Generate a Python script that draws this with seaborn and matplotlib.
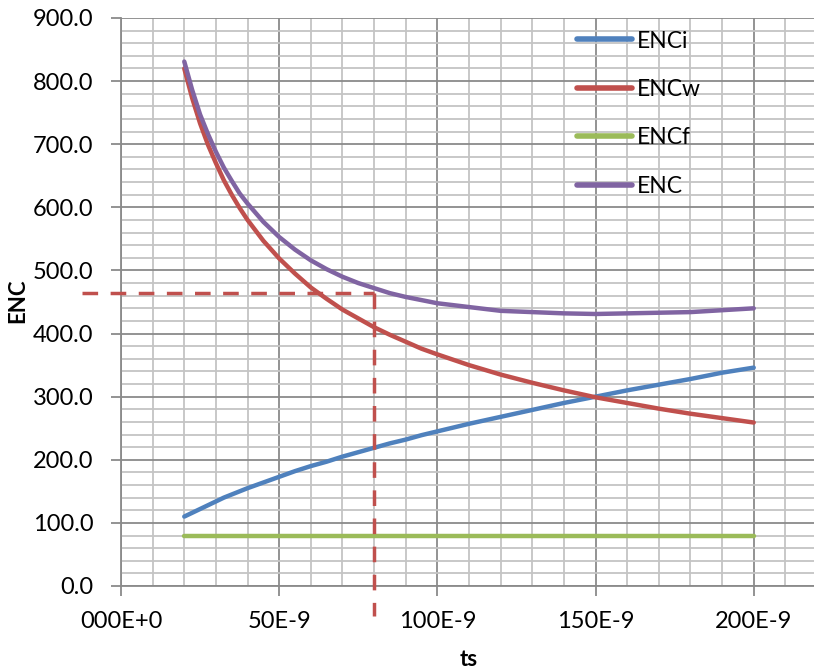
import numpy as np
import pandas as pd
import matplotlib
matplotlib.use("Agg")
import matplotlib.pyplot as plt
from matplotlib.ticker import MultipleLocator, FuncFormatter
from matplotlib.lines import Line2D
import seaborn as sns

# ---- data ----
ts_ns = [20, 22.5, 25, 27.5, 30, 32.5, 35, 37.5, 40, 45, 50, 55, 60, 65, 70, 75, 80, 85, 90, 95,
         100, 110, 120, 130, 140, 150, 160, 170, 180, 190, 200]
enc_i = [110, 116, 122, 128, 134, 140, 145, 150, 155, 164, 173, 182, 190, 197, 205, 212, 219, 226, 232, 239,
         245, 257, 268, 279, 290, 300, 310, 319, 328, 338, 346]
enc_w = [820, 773, 733, 699, 670, 643, 620, 599, 580, 547, 519, 495, 473, 455, 438, 424, 410, 398, 387, 376,
         367, 350, 335, 322, 310, 299, 290, 281, 273, 266, 259]
enc_f = [80] * len(ts_ns)
enc_t = [831, 786, 747, 716, 688, 663, 642, 622, 606, 577, 553, 533, 516, 502, 490, 480, 472, 464, 458, 453,
         448, 442, 436, 434, 432, 431, 432, 433, 434, 437, 440]
series_names = ["ENCi", "ENCw", "ENCf", "ENC"]
series_colors = ["#4F81BD", "#C0504D", "#9BBB59", "#8064A2"]
x_ticks = [0, 50e-9, 100e-9, 150e-9, 200e-9]
x_tick_labels = ["000E+0", "50E-9", "100E-9", "150E-9", "200E-9"]
marker_ts = 80e-9
marker_enc = 465

df = pd.DataFrame({"ts": [t * 1e-9 for t in ts_ns],
                   "ENCi": enc_i, "ENCw": enc_w, "ENCf": enc_f, "ENC": enc_t})
long = df.melt(id_vars="ts", var_name="series", value_name="enc")

sns.set_style("white")
plt.rcParams["font.family"] = ["Lato", "DejaVu Sans"]
plt.rcParams["text.color"] = "black"
plt.rcParams["xtick.color"] = "black"
plt.rcParams["ytick.color"] = "black"

W, H = 814, 670
fig = plt.figure(figsize=(W / 100, H / 100), dpi=100)
ax = fig.add_axes([121 / W, 1 - 586 / H, (817 - 121) / W, (586 - 18) / H])

ax.set_xlim(0, 220e-9)
ax.set_ylim(0, 900)
ax.xaxis.set_major_locator(MultipleLocator(50e-9))
ax.xaxis.set_minor_locator(MultipleLocator(10e-9))
ax.yaxis.set_major_locator(MultipleLocator(100))
ax.yaxis.set_minor_locator(MultipleLocator(20))
ax.grid(which="minor", color="#C4C4C4", lw=1.3, zorder=0)
ax.grid(which="major", color="#8A8A8A", lw=1.3, zorder=0)
ax.set_axisbelow(True)

sns.lineplot(data=long, x="ts", y="enc", hue="series", hue_order=series_names,
             palette=dict(zip(series_names, series_colors)), lw=3.2,
             ax=ax, legend=False, zorder=3)
for line in ax.lines:
    line.set_solid_capstyle("round")
    line.set_solid_joinstyle("round")

ax.set_xticks(x_ticks)
ax.set_xticklabels(x_tick_labels)
ax.yaxis.set_major_formatter(FuncFormatter(lambda v, p: f"{v:.1f}"))
ax.tick_params(axis="both", which="major", labelsize=17, length=7, width=1.3,
               color="#8A8A8A", labelcolor="black", direction="out", bottom=True, left=True)
ax.tick_params(axis="x", which="major", pad=11)
ax.tick_params(axis="y", which="major", pad=13)
ax.tick_params(axis="both", which="minor", length=0)
for s in ["top", "right"]:
    ax.spines[s].set_visible(False)
for s in ["left", "bottom"]:
    ax.spines[s].set_color("#8A8A8A")
    ax.spines[s].set_linewidth(1.3)

ax.set_xlabel("")
ax.set_ylabel("")
fig.text(469 / W, 1 - 659 / H, "ts", ha="center", va="center", fontsize=16, fontweight="bold")
fig.text(18 / W, 1 - 301 / H, "ENC", ha="center", va="center", rotation=90,
         fontsize=16, fontweight="bold")

# dashed guide lines at the chosen operating point
dash_kw = dict(color="#C0504D", lw=2.5, dashes=(4.5, 3.6), clip_on=False, zorder=4,
               solid_capstyle="butt")
ax.plot([-12.3e-9, marker_ts], [marker_enc, marker_enc], **dash_kw)
ax.plot([marker_ts, marker_ts], [marker_enc, -48], **dash_kw)

# legend
handles = [Line2D([], [], color=c, lw=4, solid_capstyle="round") for c in series_colors]
leg = fig.legend(handles, series_names, loc="upper left",
                 bbox_to_anchor=(577 / W, 1 - 30.5 / H), frameon=False, fontsize=16.5,
                 handlelength=2.4, handletextpad=0.22, labelspacing=1.2, borderpad=0,
                 borderaxespad=0)

fig.savefig("out.png", dpi=100)
